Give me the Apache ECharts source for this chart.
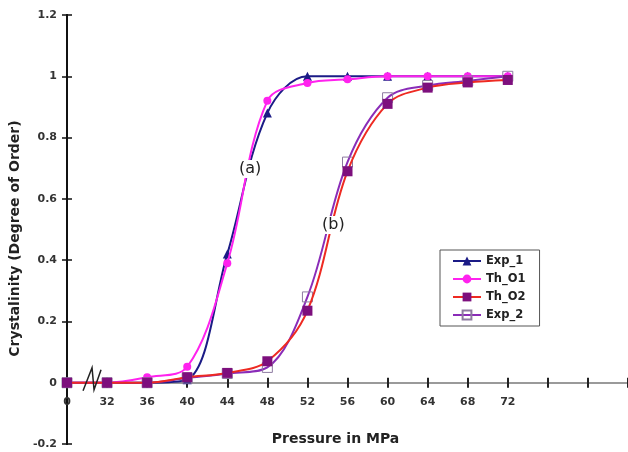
<!DOCTYPE html>
<html><head><meta charset="utf-8">
<script src="https://cdn.jsdelivr.net/npm/echarts@6/dist/echarts.min.js"></script>
<style>html,body{margin:0;padding:0;background:#fff}#c{width:628px;height:452px}</style>
</head><body><div id="c"></div>
<script>
const categories = ['0','32','36','40','44','48','52','56','60','64','68','72','','',''];
const exp1 = [0, 0, 0, 0.01, 0.42, 0.88, 1.0, 1.0, 1.0, 1.0, 1.0, 1.0];
const th1  = [0, 0, 0.018, 0.052, 0.39, 0.92, 0.978, 0.99, 1.0, 1.0, 1.0, 1.0];
const th2  = [0, 0, 0, 0.018, 0.032, 0.07, 0.235, 0.69, 0.91, 0.963, 0.98, 0.988];
const exp2 = [0, 0, 0, 0.015, 0.03, 0.05, 0.28, 0.72, 0.93, 0.97, 0.985, 1.0];
const yMin = -0.2, yMax = 1.2, yStep = 0.2;

const W = 628, H = 452, gTop = 15, gBottom = 8, gLeft = 67;
// pixel row of y = 0 so the label grid can end exactly on the zero line
const zeroY = gTop + (H - gTop - gBottom) * (yMax / (yMax - yMin));

const chart = echarts.init(document.getElementById('c'), null, {renderer:'canvas'});
const tickFont = {fontFamily:'DejaVu Sans', fontWeight:'bold', fontSize:11, color:'#333'};
const xBase = {
  type:'category', data:categories, boundaryGap:false, position:'bottom',
  axisLine:{onZero:true, lineStyle:{color:'#9a9a9a', width:2}},
  splitLine:{show:false}
};
const yBase = {
  type:'value', min:yMin, max:yMax, interval:yStep, position:'left', gridIndex:0,
  axisLine:{show:true, lineStyle:{color:'#111', width:2}},
  splitLine:{show:false}
};
chart.setOption({
  animation:false,
  backgroundColor:'#fff',
  grid:[
    {left:gLeft, right:0, top:gTop, bottom:gBottom, containLabel:false, outerBoundsMode:'none'},
    {left:gLeft, right:0, top:gTop, bottom:H - zeroY, containLabel:false, outerBoundsMode:'none'}
  ],
  legend:{
    orient:'vertical', left:440, top:250,
    borderColor:'#555', borderWidth:1, padding:[5,14,5,12],
    itemWidth:28, itemHeight:11, itemGap:6,
    textStyle:{fontFamily:'DejaVu Sans', fontWeight:'bold', fontSize:11.5, color:'#222'},
    data:['Exp_1','Th_O1','Th_O2','Exp_2']
  },
  xAxis:[
    Object.assign({}, xBase, {gridIndex:0,
      axisTick:{show:true, inside:false, length:5, lineStyle:{color:'#222', width:2}},
      axisLabel:{show:false}
    }),
    Object.assign({}, xBase, {gridIndex:0,
      axisTick:{show:true, inside:true, length:5, lineStyle:{color:'#222', width:2}},
      axisLabel:{show:false}
    }),
    {type:'category', data:categories, boundaryGap:false, position:'bottom', gridIndex:1,
      axisLine:{show:false, onZero:false}, axisTick:{show:false}, splitLine:{show:false},
      axisLabel:Object.assign({margin:14, interval:0}, tickFont),
      name:'Pressure in MPa', nameLocation:'middle', nameGap:50,
      nameTextStyle:{fontFamily:'DejaVu Sans', fontWeight:'bold', fontSize:14, color:'#222', padding:[0,24,0,0]}
    }
  ],
  yAxis:[
    Object.assign({}, yBase, {
      axisTick:{show:true, inside:false, length:5, lineStyle:{color:'#111', width:1.5}},
      axisLabel:Object.assign({margin:10}, tickFont),
      name:'Crystalinity (Degree of Order)', nameLocation:'middle', nameGap:30,
      nameTextStyle:{fontFamily:'DejaVu Sans', fontWeight:'bold', fontSize:14, color:'#222', padding:[0,18,0,0]}
    }),
    Object.assign({}, yBase, {
      axisTick:{show:true, inside:true, length:5, lineStyle:{color:'#111', width:1.5}},
      axisLabel:{show:false}
    }),
    {type:'value', gridIndex:1, min:0, max:1, show:false}
  ],
  series:[
    {name:'Exp_1', type:'line', data:exp1, smooth:0.35, symbol:'triangle', symbolSize:9,
     itemStyle:{color:'#1b1b86'}, lineStyle:{color:'#1b1b86', width:2}, z:2},
    {name:'Th_O1', type:'line', data:th1, smooth:0.35, symbol:'circle', symbolSize:8,
     itemStyle:{color:'#ff22ee'}, lineStyle:{color:'#ff22ee', width:2}, z:3},
    {name:'Exp_2', type:'line', data:exp2, smooth:0.35, symbol:'rect', symbolSize:10,
     itemStyle:{color:'rgba(255,255,255,0)', borderColor:'#8d7aa0', borderWidth:1},
     lineStyle:{color:'#8a2cb8', width:2}, z:4},
    {name:'Th_O2', type:'line', data:th2, smooth:0.35, symbol:'rect', symbolSize:10,
     itemStyle:{color:'#7d0f7d'}, lineStyle:{color:'#ee2a22', width:2}, z:5}
  ]
});

// axis break mark between the first two categories, and curve labels
const p0 = chart.convertToPixel({xAxisIndex:0, yAxisIndex:0}, [0, 0]);
const p1 = chart.convertToPixel({xAxisIndex:0, yAxisIndex:0}, [1, 0]);
const mx = (p0[0] + p1[0]) / 2, my = p0[1];
chart.setOption({
  graphic:[
    {type:'polyline', z:100, shape:{points:[[mx-4,my+8],[mx+5,my-15],[mx+7,my+7],[mx+14,my-13]]},
     style:{stroke:'#222', lineWidth:1.5, fill:null}},
    {type:'text', z:100, left:238, top:160,
     style:{text:'(a)', font:'16px "DejaVu Sans"', fill:'#222', backgroundColor:'#fff', padding:[1,1]}},
    {type:'text', z:100, left:321, top:216,
     style:{text:'(b)', font:'16px "DejaVu Sans"', fill:'#222', backgroundColor:'#fff', padding:[1,1]}}
  ]
});
</script></body></html>
